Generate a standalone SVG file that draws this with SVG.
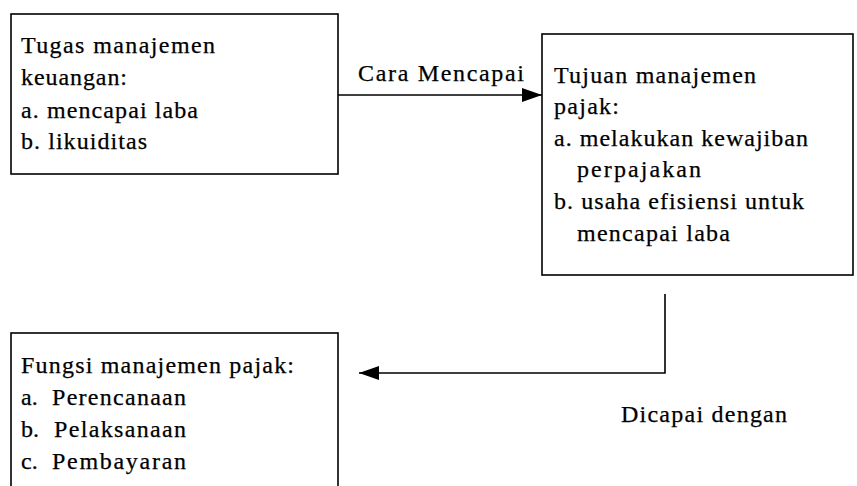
<svg xmlns="http://www.w3.org/2000/svg" width="857" height="486" viewBox="0 0 857 486">
<style>
.box{fill:#fff;stroke:#000;stroke-width:1.6}
.t{font-family:"Liberation Serif","Times New Roman",serif;font-size:24px;fill:#000;stroke:#000;stroke-width:0.25}
.c{fill:none;stroke:#000;stroke-width:1.6}
</style>
<defs>
<marker id="ah" viewBox="0 0 20 14" refX="20" refY="7" markerWidth="20" markerHeight="14" markerUnits="userSpaceOnUse" orient="auto">
<path d="M0,0 L20,7 L0,14 Z" fill="#000"/>
</marker>
</defs>
<rect width="857" height="486" fill="#fff"/>
<g id="node-tugas">
<rect class="box" x="11" y="14" width="327" height="160"/>
<text class="t" x="21" y="53" textLength="194" lengthAdjust="spacing">Tugas manajemen</text>
<text class="t" x="21" y="85" textLength="106" lengthAdjust="spacing">keuangan:</text>
<text class="t" x="21" y="117.5" textLength="177" lengthAdjust="spacing">a. mencapai laba</text>
<text class="t" x="21" y="149" textLength="126" lengthAdjust="spacing">b. likuiditas</text>
</g>
<g id="node-tujuan">
<rect class="box" x="542" y="34" width="311" height="241"/>
<text class="t" x="554" y="83" textLength="202" lengthAdjust="spacing">Tujuan manajemen</text>
<text class="t" x="554" y="114" textLength="65" lengthAdjust="spacing">pajak:</text>
<text class="t" x="554" y="146" textLength="254" lengthAdjust="spacing">a. melakukan kewajiban</text>
<text class="t" x="577" y="177" textLength="124" lengthAdjust="spacing">perpajakan</text>
<text class="t" x="554" y="209" textLength="250" lengthAdjust="spacing">b. usaha efisiensi untuk</text>
<text class="t" x="577" y="240.5" textLength="153" lengthAdjust="spacing">mencapai laba</text>
</g>
<g id="node-fungsi">
<rect class="box" x="11" y="333" width="327" height="170"/>
<text class="t" x="21" y="373" textLength="273" lengthAdjust="spacing">Fungsi manajemen pajak:</text>
<text class="t" x="21" y="405">a.</text>
<text class="t" x="52" y="405" textLength="134" lengthAdjust="spacing">Perencanaan</text>
<text class="t" x="21" y="437">b.</text>
<text class="t" x="54" y="437" textLength="132" lengthAdjust="spacing">Pelaksanaan</text>
<text class="t" x="21" y="469">c.</text>
<text class="t" x="52" y="469" textLength="134" lengthAdjust="spacing">Pembayaran</text>
</g>
<g id="connectors">
<line class="c" x1="338" y1="95" x2="542" y2="95" marker-end="url(#ah)"/>
<text class="t" x="358" y="81" textLength="166" lengthAdjust="spacing">Cara Mencapai</text>
<polyline class="c" points="665,294 665,373 359,373" marker-end="url(#ah)"/>
<text class="t" x="621" y="422" textLength="166" lengthAdjust="spacing">Dicapai dengan</text>
</g>
</svg>
